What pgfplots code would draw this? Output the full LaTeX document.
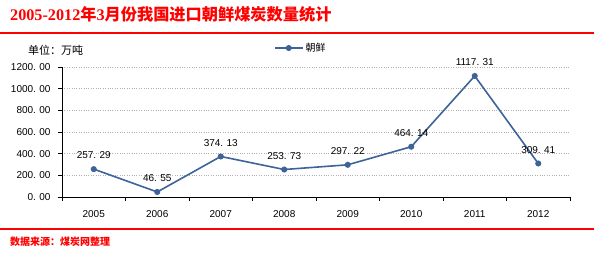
\documentclass[border=0pt]{standalone}
\usepackage{fontspec}
\setmainfont{Liberation Sans}
\newfontfamily\cjk{Noto Sans CJK SC}
\newfontfamily\serifnum{Liberation Serif}
\usepackage{pgfplots}
\pgfplotsset{compat=1.18}
\definecolor{linecol}{HTML}{3D6399}
\definecolor{titlered}{HTML}{FF0000}
\begin{document}
\begin{tikzpicture}[x=1pt,y=1pt]
\path[use as bounding box] (-62,-62) rectangle (532,197);
% title
\node[anchor=west,inner sep=0pt,text=titlered] at (-52,183)
  {\fontsize{16.2}{16}\selectfont\bfseries\serifnum 2005-2012{\cjk 年}3{\cjk 月份我国进口朝鲜煤炭数量统计}};
\draw[titlered,line width=2pt] (-62,164) -- (532,164);
\draw[titlered,line width=2pt] (-62,-32) -- (532,-32);
\node[anchor=west,inner sep=0pt,text=titlered] at (-52,-45)
  {\fontsize{10}{10}\selectfont\bfseries\cjk 数据来源：煤炭网整理};
\node[anchor=west,inner sep=0pt] at (-34,147)
  {\fontsize{11}{11}\selectfont\cjk 单位：万吨};
\begin{axis}[
  scale only axis, width=508pt, height=130pt,
  xmin=-0.5, xmax=7.5, ymin=0, ymax=1200,
  axis x line*=bottom, axis y line*=left,
  axis line style={black, line width=0.8pt},
  xtick={0,...,7},
  xticklabels={2005,2006,2007,2008,2009,2010,2011,2012},
  minor xtick={-0.5,0.5,...,7.5},
  major x tick style={draw=none},
  minor tick length=4pt,
  tick align=outside,
  major tick length=4pt,
  ytick={0,200,...,1200},
  ymajorgrids,
  grid style={gray!60, dotted, line width=0.6pt},
  tick style={black, line width=0.8pt},
  xticklabel style={font=\fontsize{10}{10}\selectfont, yshift=-6pt},
  yticklabel style={font=\fontsize{10}{10}\selectfont, xshift=-4pt},
  /pgf/number format/.cd, fixed, fixed zerofill, precision=2, 1000 sep={}, dec sep={.\,\,}, assume math mode=true,
  /pgfplots/.cd,
  legend style={at={(0.47,1.146)}, anchor=center, draw=none, fill=none,
    font=\fontsize{10}{10}\selectfont\cjk, legend cell align=left},
  legend image code/.code={
    \draw[mark repeat=2,mark phase=2,#1] plot coordinates {(0pt,0pt) (14pt,0pt) (28pt,0pt)};
  },
  nodes near coords,
  every node near coord/.append style={font=\fontsize{10}{10}\selectfont, black, yshift=6pt},
  clip=false,
]
\addplot[color=linecol, line width=1.6pt, mark=*, mark size=2.2pt, mark options={fill=linecol}]
  coordinates {(0,257.29) (1,46.55) (2,374.13) (3,253.73) (4,297.22) (5,464.14) (6,1117.31) (7,309.41)};
\addlegendentry{朝鲜}
\end{axis}
\end{tikzpicture}
\end{document}
